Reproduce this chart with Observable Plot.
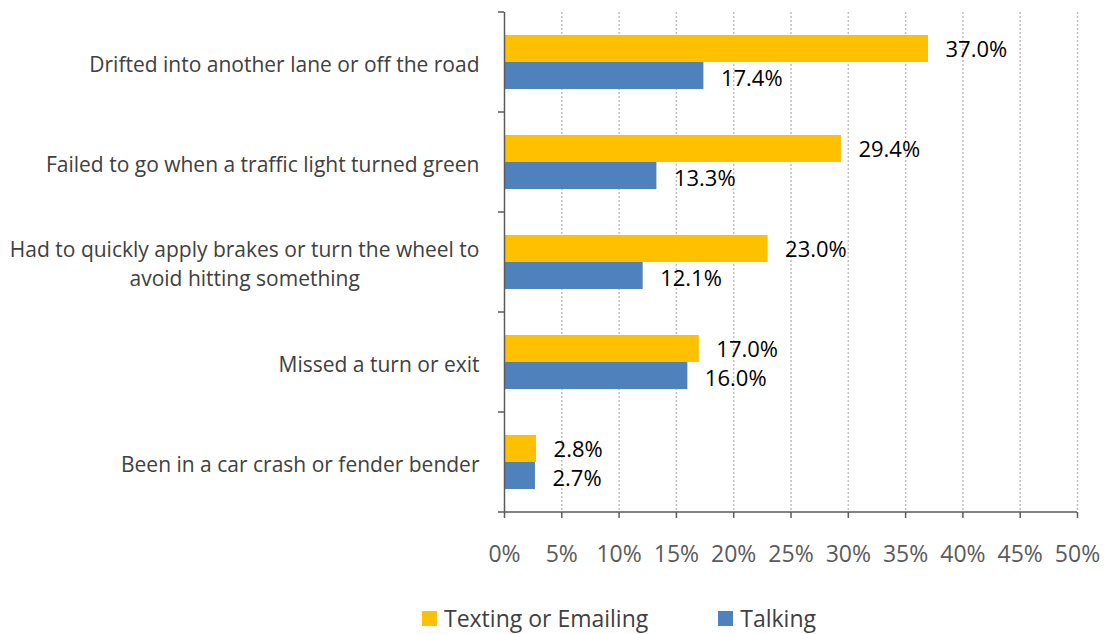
<!DOCTYPE html>
<html>
<head>
<meta charset="utf-8">
<script src="https://cdn.jsdelivr.net/npm/d3@7"></script>
<script src="https://cdn.jsdelivr.net/npm/@observablehq/plot@0.6"></script>
<style>
  body { margin: 0; background: #fff; font-family: "Open Sans", sans-serif; overflow: hidden; }
  #legend { display: flex; align-items: center; height: 32px; margin-top: 2px; padding-left: 422px; font-size: 23px; line-height: 30px; color: #404040; }
  #legend .sw { width: 15px; height: 15px; margin-right: 7px; }
  #legend .item { display: flex; align-items: center; margin-right: 70px; }
</style>
</head>
<body>
<div id="chart"></div>
<div id="legend"></div>
<script>
const categories = [
  "Drifted into another lane or off the road",
  "Failed to go when a traffic light turned green",
  "Had to quickly apply brakes or turn the wheel to\navoid hitting something",
  "Missed a turn or exit",
  "Been in a car crash or fender bender"
];
const seriesNames = ["Texting or Emailing", "Talking"];
const seriesColors = ["#FFC000", "#4F81BD"];
const texting = [37.0, 29.4, 23.0, 17.0, 2.8];
const talking = [17.4, 13.3, 12.1, 16.0, 2.7];
const xTicks = [0, 5, 10, 15, 20, 25, 30, 35, 40, 45, 50];

const data = categories.flatMap((c, i) => [
  {category: c, series: seriesNames[0], value: texting[i]},
  {category: c, series: seriesNames[1], value: talking[i]}
]);
const labelStyle = {x: "value", y: "series", fy: "category", text: d => d.value.toFixed(1) + "%",
  textAnchor: "start", dx: 17, fontSize: 22, fill: "#000"};

const chart = Plot.plot({
  width: 1111,
  height: 600,
  marginLeft: 504,
  marginRight: 34,
  marginTop: 12,
  marginBottom: 88,
  style: {fontFamily: "Open Sans", background: "#fff"},
  x: {domain: [0, 50], ticks: xTicks, label: null},
  fy: {domain: categories, padding: 0, axis: null, label: null},
  y: {domain: seriesNames, paddingInner: 0, paddingOuter: 0.786, axis: null, label: null},
  color: {domain: seriesNames, range: seriesColors},
  marks: [
    Plot.gridX(xTicks.slice(1), {stroke: "#bfbfbf", strokeOpacity: 1, strokeWidth: 1.5, strokeDasharray: "2,2"}),
    Plot.barX(data, {x: "value", y: "series", fy: "category", fill: "series"}),
    Plot.text(data.filter(d => d.series === seriesNames[0]), {...labelStyle, dy: 1}),
    Plot.text(data.filter(d => d.series === seriesNames[1]), {...labelStyle, dy: 3}),
    Plot.text(categories, {fy: d => d, text: d => d, frameAnchor: "left", textAnchor: "end",
      dx: -25, fontSize: 21, fill: "#404040", lineHeight: 1.38, lineAnchor: "middle"}),
    Plot.ruleX([0], {stroke: "#5a5a5a", strokeWidth: 1.5}),
    Plot.axisX({ticks: xTicks, tickFormat: d => d + "%", tickSize: 6, tickPadding: 27,
      fontSize: 23, color: "#5a5a5a", strokeWidth: 1.5})
  ]
});
document.getElementById("chart").appendChild(chart);

// category boundary ticks and x axis line from the library's scales
const fy = chart.scale("fy");
const xs = chart.scale("x");
const svg = d3.select(chart.tagName === "svg" ? chart : chart.querySelector("svg"));
const x0 = xs.apply(0), x1 = xs.apply(50);
const tops = categories.map(c => fy.apply(c));
const bottom = fy.apply(categories[categories.length - 1]) + fy.bandwidth;
const g = svg.append("g").attr("stroke", "#5a5a5a").attr("stroke-width", 1.5);
tops.forEach(t => g.append("line").attr("x1", x0 - 6).attr("x2", x0).attr("y1", t).attr("y2", t));
g.append("line").attr("x1", x0 - 6).attr("x2", x1).attr("y1", bottom).attr("y2", bottom);

// center the second line of multi-line category labels under the first
svg.selectAll("text").each(function() {
  const ts = this.querySelectorAll("tspan");
  if (ts.length === 2) {
    const w = ts[0].getComputedTextLength();
    ts[1].setAttribute("x", -w / 2);
    ts[1].setAttribute("text-anchor", "middle");
  }
});

// legend
const legend = d3.select("#legend");
seriesNames.forEach((s, i) => {
  const item = legend.append("div").attr("class", "item");
  item.append("div").attr("class", "sw").style("background", seriesColors[i]);
  item.append("span").text(s);
});
</script>
</body>
</html>
